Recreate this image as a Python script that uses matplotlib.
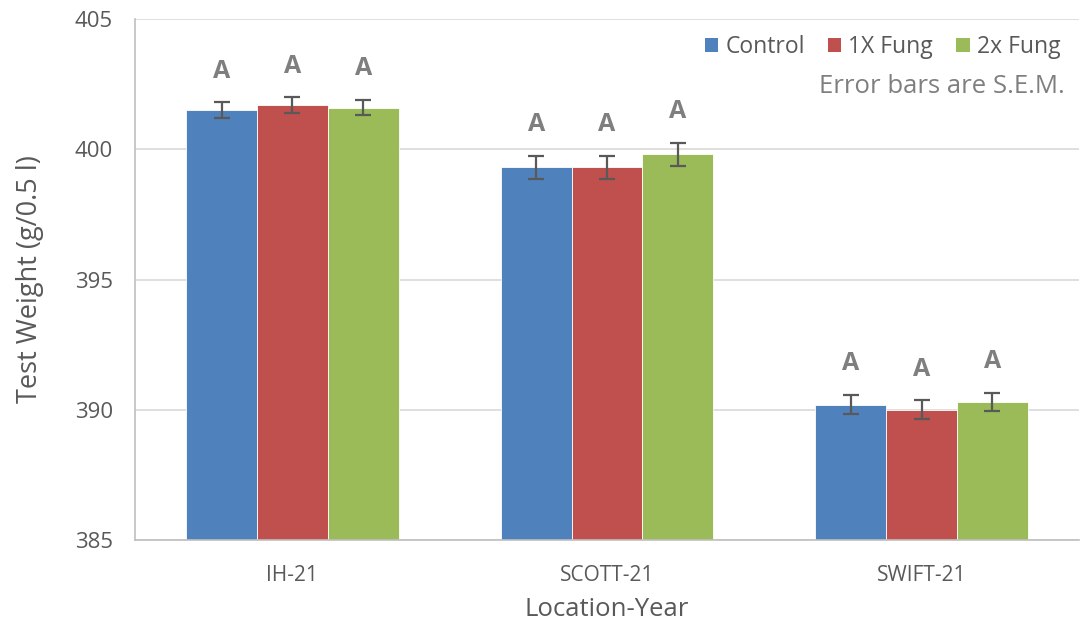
import matplotlib
matplotlib.use("Agg")
import matplotlib.pyplot as plt
import numpy as np
from matplotlib.patches import Patch

categories = ["IH-21", "SCOTT-21", "SWIFT-21"]
series_names = ["Control", "1X Fung", "2x Fung"]
control = [401.5, 399.3, 390.2]
fung1x = [401.7, 399.3, 390.0]
fung2x = [401.6, 399.8, 390.3]
control_err = [0.30, 0.44, 0.36]
fung1x_err = [0.29, 0.44, 0.36]
fung2x_err = [0.30, 0.45, 0.36]
letters = [["A", "A", "A"], ["A", "A", "A"], ["A", "A", "A"]]
yticks = [385, 390, 395, 400, 405]

colors = ["#4F81BD", "#C0504D", "#9BBB59"]
txt = "#595959"
plt.rcParams['font.family'] = ['Open Sans', 'DejaVu Sans']

fig = plt.figure(figsize=(10.8, 6.25), dpi=100)
ax = fig.add_axes([135/1080, 1-540/625, 944/1080, 521/625])

x = np.arange(len(categories))
w = 0.225
vals = [control, fung1x, fung2x]
errs = [control_err, fung1x_err, fung2x_err]
for i, (v, e) in enumerate(zip(vals, errs)):
    pos = x + (i - 1) * w
    ax.bar(pos, np.array(v) - 385, bottom=385, width=w, color=colors[i], zorder=2,
           edgecolor='white', linewidth=0.6)
    ax.errorbar(pos, v, yerr=e, fmt='none', ecolor=txt, elinewidth=1.6, capsize=5.5,
                capthick=1.6, zorder=3)
    for j in range(len(categories)):
        ax.text(pos[j], v[j] + e[j] + 0.72, letters[j][i], ha='center', va='bottom',
                fontsize=18, fontweight='bold', color='#7F7F7F')

ax.set_xlim(-0.5, 2.5)
ax.set_ylim(385, 405)
ax.set_yticks(yticks)
ax.set_xticks(x)
ax.set_xticklabels(categories)
ax.yaxis.grid(True, color='#D9D9D9', linewidth=1.2, zorder=0)
ax.set_axisbelow(True)
for s in ['top', 'right']:
    ax.spines[s].set_visible(False)
ax.spines['left'].set_color('#BFBFBF')
ax.spines['bottom'].set_color('#BFBFBF')
ax.spines['left'].set_linewidth(1.2)
ax.spines['bottom'].set_linewidth(1.2)
ax.tick_params(axis='y', length=0, labelsize=16, colors=txt, pad=16)
ax.tick_params(axis='x', length=0, labelsize=15, colors=txt, pad=18)
ax.set_ylabel("Test Weight (g/0.5 l)", fontsize=19.5, color=txt, labelpad=22)
ax.set_xlabel("Location-Year", fontsize=18.5, color=txt, labelpad=8)

handles = [Patch(facecolor=c, edgecolor='none') for c in colors]
ax.legend(handles, series_names, loc='upper right', bbox_to_anchor=(0.997, 1.0), ncol=3,
          frameon=False, fontsize=16.5, handlelength=0.6, handleheight=0.6,
          handletextpad=0.3, columnspacing=1.0, labelcolor=txt, borderaxespad=0.3)
ax.text(0.985, 0.87, "Error bars are S.E.M.", transform=ax.transAxes, ha='right',
        va='center', fontsize=18.5, color='#7F7F7F')

fig.savefig("out.png", dpi=100)
